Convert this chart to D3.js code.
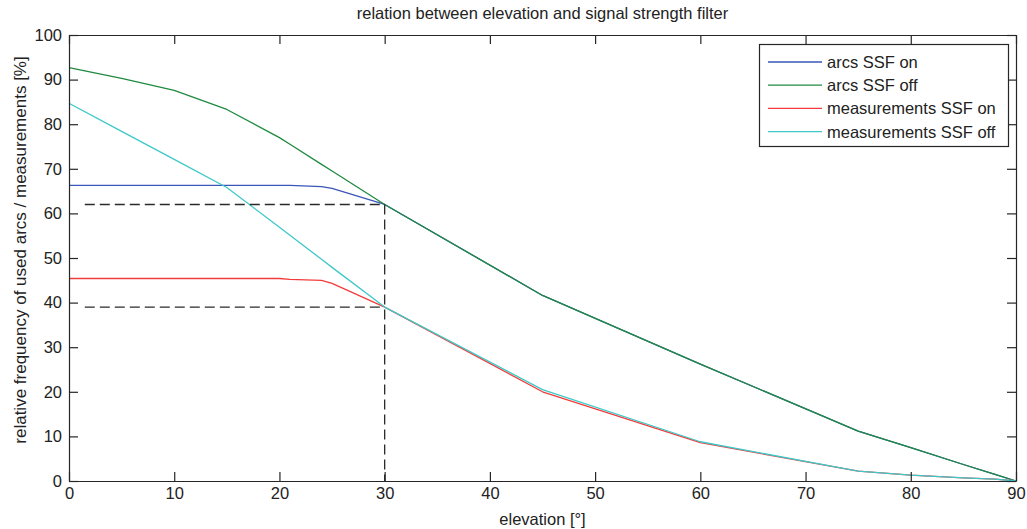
<!DOCTYPE html>
<html>
<head>
<meta charset="utf-8">
<script src="https://cdn.jsdelivr.net/npm/d3@7"></script>
<style>
  html, body { margin: 0; padding: 0; background: #ffffff; }
  svg { display: block; }
  text { font-family: "Liberation Sans", Arial, sans-serif; fill: #222; }
</style>
</head>
<body>
<svg id="chart" width="1027" height="529"></svg>
<script>
// Elevation grid (degrees) shared by all four curves
const elevation = [0, 5, 10, 15, 20, 21, 24, 25, 30, 45, 60, 75, 80, 85, 88, 90];

// Relative frequency [%] per curve
const arcsOn         = [66.3, 66.3, 66.3, 66.3, 66.3, 66.3, 66.0, 65.6, 62.0, 41.6, 26.2, 11.2, 7.5, 3.7, 1.5, 0];
const arcsOff        = [92.7, 90.3, 87.6, 83.3, 77.0, 75.5, 71.0, 69.5, 62.0, 41.6, 26.2, 11.2, 7.5, 3.7, 1.5, 0];
const measurementsOn = [45.4, 45.4, 45.4, 45.4, 45.4, 45.2, 45.0, 44.3, 39.0, 20.0, 8.6, 2.2, 1.3, 0.7, 0.4, 0];
const measurementsOff= [84.7, 78.4, 72.1, 65.8, 56.9, 55.1, 49.7, 47.9, 39.0, 20.5, 8.8, 2.2, 1.3, 0.7, 0.4, 0];

const seriesNames  = ["arcs SSF on", "arcs SSF off", "measurements SSF on", "measurements SSF off"];
const seriesColors = ["#3a56b8", "#1f8a40", "#f23c3c", "#3ec8c8"];

// Reference marks at 30° elevation
const refElevation = 30;
const refLevels = [62, 39];
const refStart = 1.5;

const xTicks = [0, 10, 20, 30, 40, 50, 60, 70, 80, 90];
const yTicks = [0, 10, 20, 30, 40, 50, 60, 70, 80, 90, 100];

const titleText = "relation between elevation and signal strength filter";
const xLabelText = "elevation [°]";
const yLabelText = "relative frequency of used arcs / measurements [%]";

const svg = d3.select("#chart");
const m = { left: 69, top: 35, right: 1016, bottom: 481 };
const fontSize = "16.5px";

const x = d3.scaleLinear().domain([0, 90]).range([m.left, m.right]);
const y = d3.scaleLinear().domain([0, 100]).range([m.bottom, m.top]);

const series = [arcsOn, arcsOff, measurementsOn, measurementsOff];

const line = d3.line()
  .x(d => x(d[0]))
  .y(d => y(d[1]));

// Curves
const curves = svg.append("g");
series.forEach((vals, i) => {
  curves.append("path")
    .datum(elevation.map((e, k) => [e, vals[k]]))
    .attr("fill", "none")
    .attr("stroke", seriesColors[i])
    .attr("stroke-width", 1.3)
    .attr("stroke-linejoin", "round")
    .attr("d", line);
});

// Dashed reference lines
const refs = svg.append("g")
  .attr("stroke", "#2a2a2a")
  .attr("stroke-width", 1.3)
  .attr("stroke-dasharray", "10,5")
  .attr("fill", "none");
refLevels.forEach(v => {
  refs.append("path").attr("d", line([[refStart, v], [refElevation, v]]));
});
refs.append("path").attr("d", line([[refElevation, d3.max(refLevels)], [refElevation, 0]]));

// Axes (box with inward ticks on all sides)
const tickLen = 9;
const axisColor = "#262626";

const axB = d3.axisBottom(x).tickValues(xTicks).tickSizeInner(-tickLen).tickSizeOuter(0).tickPadding(6);
const axT = d3.axisTop(x).tickValues(xTicks).tickSizeInner(-tickLen).tickSizeOuter(0).tickFormat("");
const axL = d3.axisLeft(y).tickValues(yTicks).tickSizeInner(-tickLen).tickSizeOuter(0).tickPadding(7);
const axR = d3.axisRight(y).tickValues(yTicks).tickSizeInner(-tickLen).tickSizeOuter(0).tickFormat("");

function styleAxis(g) {
  g.select(".domain").attr("stroke", axisColor).attr("stroke-width", 1.2);
  g.selectAll(".tick line").attr("stroke", axisColor).attr("stroke-width", 1.2);
  g.selectAll(".tick text")
    .attr("fill", "#222")
    .style("font-family", '"Liberation Sans", Arial, sans-serif')
    .style("font-size", fontSize);
}

svg.append("g").attr("transform", `translate(0,${m.bottom})`).call(axB).call(styleAxis);
svg.append("g").attr("transform", `translate(0,${m.top})`).call(axT).call(styleAxis);
svg.append("g").attr("transform", `translate(${m.left},0)`).call(axL).call(styleAxis);
svg.append("g").attr("transform", `translate(${m.right},0)`).call(axR).call(styleAxis);

// Title and axis labels
svg.append("text")
  .attr("x", (m.left + m.right) / 2).attr("y", 19)
  .attr("text-anchor", "middle")
  .style("font-size", fontSize)
  .text(titleText);

svg.append("text")
  .attr("x", (m.left + m.right) / 2).attr("y", 525)
  .attr("text-anchor", "middle")
  .style("font-size", fontSize)
  .text(xLabelText);

svg.append("text")
  .attr("transform", "translate(26,250) rotate(-90)")
  .attr("text-anchor", "middle")
  .style("font-size", "17px")
  .text(yLabelText);

// Legend
const lg = svg.append("g");
lg.append("rect")
  .attr("x", 759.5).attr("y", 44.5)
  .attr("width", 249).attr("height", 102)
  .attr("fill", "#ffffff")
  .attr("stroke", axisColor)
  .attr("stroke-width", 1.2);
seriesNames.forEach((name, i) => {
  const cy = 62 + i * 23.2;
  lg.append("line")
    .attr("x1", 768).attr("x2", 822)
    .attr("y1", cy).attr("y2", cy)
    .attr("stroke", seriesColors[i])
    .attr("stroke-width", 1.3);
  lg.append("text")
    .attr("x", 827).attr("y", cy + 6)
    .style("font-size", fontSize)
    .text(name);
});
</script>
</body>
</html>
